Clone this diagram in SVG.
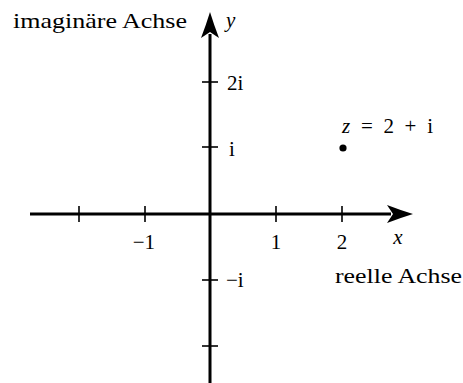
<svg xmlns="http://www.w3.org/2000/svg" width="463" height="383" viewBox="0 0 463 383">
<style>
.ax{stroke:#000;stroke-width:3;fill:none}
.tk{stroke:#000;stroke-width:1.6}
text{font-family:"Liberation Serif","Times New Roman",serif;font-size:21px;fill:#000}
.it{font-style:italic}
</style>
<defs>
<marker id="arr" markerUnits="userSpaceOnUse" markerWidth="30" markerHeight="22" viewBox="0 -11 30 22" refX="4" refY="0" orient="auto">
<path d="M0,-9 Q13,-4 26,0 Q13,4 0,9 L6,0 Z" fill="#000"/>
</marker>
</defs>
<g id="axes">
<line class="ax" x1="30" y1="214" x2="391" y2="214" marker-end="url(#arr)"/>
<line class="ax" x1="210" y1="383" x2="210" y2="34" marker-end="url(#arr)"/>
</g>
<g id="ticks">
<line class="tk" x1="79" y1="206" x2="79" y2="222"/>
<line class="tk" x1="145" y1="206" x2="145" y2="222"/>
<line class="tk" x1="276" y1="206" x2="276" y2="222"/>
<line class="tk" x1="342" y1="206" x2="342" y2="222"/>
<line class="tk" x1="202" y1="82" x2="218" y2="82"/>
<line class="tk" x1="202" y1="147" x2="218" y2="147"/>
<line class="tk" x1="202" y1="280" x2="218" y2="280"/>
<line class="tk" x1="202" y1="346" x2="218" y2="346"/>
</g>
<g id="labels">
<text x="13" y="28" textLength="174" lengthAdjust="spacingAndGlyphs">imaginäre Achse</text>
<text class="it" x="226" y="27">y</text>
<text x="227" y="90">2i</text>
<text x="229" y="156">i</text>
<text x="226" y="287">−i</text>
<text x="155" y="249" text-anchor="end">−1</text>
<text x="276" y="249" text-anchor="middle">1</text>
<text x="342" y="249" text-anchor="middle">2</text>
<text class="it" x="398" y="244" text-anchor="middle">x</text>
<text x="335" y="283" textLength="127" lengthAdjust="spacingAndGlyphs">reelle Achse</text>
</g>
<g id="point-z">
<circle cx="343" cy="148" r="3.6" fill="#000"/>
<text x="342" y="133" textLength="91"><tspan class="it">z</tspan> = 2 + i</text>
</g>
</svg>
